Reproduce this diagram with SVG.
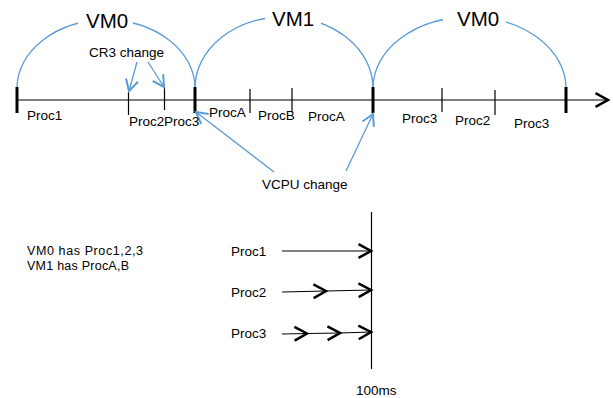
<svg xmlns="http://www.w3.org/2000/svg" width="613" height="398" viewBox="0 0 613 398">
<defs>
<marker id="ab" markerUnits="userSpaceOnUse" markerWidth="20" markerHeight="20" viewBox="-12 -8 16 16" refX="0" refY="0" orient="auto">
<path d="M-10,-5.5 L0,0 L-10,5.5" fill="none" stroke="#000" stroke-width="2"/>
</marker>
<marker id="bb" markerUnits="userSpaceOnUse" markerWidth="20" markerHeight="20" viewBox="-12 -8 16 16" refX="0" refY="0" orient="auto">
<path d="M-9,-5 L0,0 L-9,5" fill="none" stroke="#5B9BD5" stroke-width="1.6"/>
</marker>
<style>
text{font-family:"Liberation Sans",Arial,sans-serif;font-size:13.5px;fill:#000}
.vm{font-size:20.5px}
.lg{font-size:12.5px}
.arc{fill:none;stroke:#5B9BD5;stroke-width:1.3}
.blue{stroke:#5B9BD5;stroke-width:1.3;fill:none;marker-end:url(#bb)}
.blk{stroke:#000;stroke-width:1.2;fill:none}
.thick{stroke:#000;stroke-width:3}
.arr{stroke:#000;stroke-width:1.2;fill:none;marker-end:url(#ab)}
</style>
</defs>
<rect width="613" height="398" fill="#fff"/>
<g id="connectors">
<path class="arc" d="M17,88 A89,68 0 0 1 195,88"/>
<path class="arc" d="M195,88 A89,71 0 0 1 373,88"/>
<path class="arc" d="M373,88 A96.5,71 0 0 1 566,88"/>
<line class="arr" x1="17" y1="100" x2="608" y2="100"/>
<line class="thick" x1="17" y1="87" x2="17" y2="113"/>
<line class="thick" x1="195" y1="87" x2="195" y2="113"/>
<line class="thick" x1="373" y1="87" x2="373" y2="113"/>
<line class="thick" x1="566" y1="87" x2="566" y2="113"/>
<line class="blk" x1="128.5" y1="92" x2="128.5" y2="115"/>
<line class="blk" x1="164.5" y1="88" x2="164.5" y2="110" stroke="#555"/>
<line class="blk" x1="250" y1="89" x2="250" y2="113"/>
<line class="blk" x1="292" y1="88" x2="292" y2="112"/>
<line class="blk" x1="442" y1="88" x2="442" y2="112"/>
<line class="blk" x1="495" y1="90" x2="495" y2="115"/>
<line class="blue" x1="137" y1="62" x2="129" y2="91"/>
<line class="blue" x1="148" y1="62" x2="164" y2="87"/>
<line class="blue" x1="274" y1="172" x2="196" y2="112"/>
<line class="blue" x1="346" y1="171" x2="373" y2="114"/>
<line class="blk" x1="371.5" y1="212" x2="371.5" y2="369"/>
<line class="arr" x1="282" y1="251" x2="371" y2="251"/>
<line class="arr" x1="282" y1="292" x2="326" y2="291"/>
<line class="arr" x1="326" y1="291" x2="371" y2="290"/>
<line class="arr" x1="282" y1="334" x2="307" y2="333.5"/>
<line class="arr" x1="307" y1="333.5" x2="340" y2="333"/>
<line class="arr" x1="340" y1="333" x2="371" y2="332"/>
</g>
<g id="vm0a"><rect x="78" y="8" width="55" height="26" fill="#fff"/><text class="vm" x="86" y="28">VM0</text></g>
<g id="vm1"><rect x="265" y="6" width="56" height="26" fill="#fff"/><text class="vm" x="272" y="26">VM1</text></g>
<g id="vm0b"><rect x="443" y="6" width="63" height="26" fill="#fff"/><text class="vm" x="457" y="26">VM0</text></g>
<g id="cr3"><text x="89" y="57">CR3 change</text></g>
<g id="vcpu"><text x="262" y="189">VCPU change</text></g>
<g id="labels">
<text x="27" y="120">Proc1</text>
<text x="129" y="126">Proc2</text>
<text x="164" y="126">Proc3</text>
<text x="209" y="117">ProcA</text>
<text x="258" y="120">ProcB</text>
<text x="308" y="121">ProcA</text>
<text x="402" y="123">Proc3</text>
<text x="455" y="125">Proc2</text>
<text x="514" y="128">Proc3</text>
</g>
<g id="legend">
<text class="lg" x="27" y="255" textLength="116" lengthAdjust="spacing">VM0 has Proc1,2,3</text>
<text class="lg" x="27" y="270" textLength="102" lengthAdjust="spacing">VM1 has ProcA,B</text>
</g>
<g id="bottom">
<text x="231" y="256">Proc1</text>
<text x="231" y="297">Proc2</text>
<text x="231" y="338">Proc3</text>
<text x="356" y="395">100ms</text>
</g>
</svg>
